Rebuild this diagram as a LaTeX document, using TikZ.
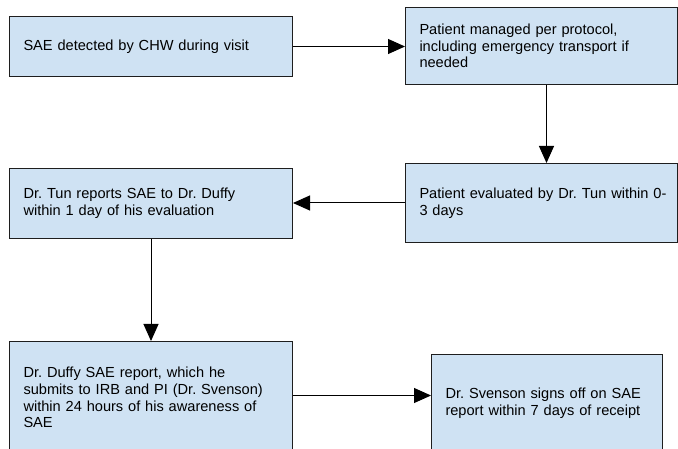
\documentclass[tikz,border=0pt]{standalone}
\usepackage{fontspec}
\setmainfont{Liberation Sans}
\frenchspacing
\usetikzlibrary{arrows.meta}
\definecolor{boxblue}{RGB}{207,226,243}
\definecolor{boxline}{RGB}{30,30,30}

\tikzset{
	stepbox/.style={draw=boxline, fill=boxblue, line width=1pt, anchor=north west,
		inner xsep=14pt, inner ysep=0pt, align=left,
		font=\fontsize{14.6}{16.7}\selectfont},
	flow/.style={-{Triangle[length=17pt,width=15pt]}, line width=1pt}
}

\begin{document}
\begin{tikzpicture}[x=1pt, y=-1pt]
	\path[use as bounding box, clip] (0,0) rectangle (678,449);
	%\draw[gray, dashed] (0,0) grid[step=50] (678,449);

	\node[stepbox, text width=255pt, minimum height=60pt] (sae) at (9,16)
		{SAE detected by CHW during visit};
	\node[stepbox, text width=244pt, minimum height=77pt] (managed) at (405,7)
		{Patient managed per protocol,\\including emergency transport if\\needed};
	\node[stepbox, text width=244pt, minimum height=79pt] (evaluated) at (405,163)
		{\mbox{Patient evaluated by Dr. Tun within 0-}\\3 days};
	\node[stepbox, text width=255pt, minimum height=70pt] (tun) at (9,168)
		{Dr. Tun reports SAE to Dr. Duffy\\within 1 day of his evaluation};
	\node[stepbox, text width=255pt, minimum height=112pt] (duffy) at (9,341)
		{Dr. Duffy SAE report, which he\\submits to IRB and PI (Dr. Svenson)\\within 24 hours of his awareness of\\SAE};
	\node[stepbox, text width=203pt, minimum height=97pt] (svenson) at (431,354)
		{Dr. Svenson signs off on SAE\\report within 7 days of receipt};

	\draw[flow] (sae.east) -- (sae.east -| managed.west);
	\draw[flow] ([xshift=5pt]managed.south) -- ([xshift=5pt]managed.south |- evaluated.north);
	\draw[flow] (evaluated.west) -- (evaluated.west -| tun.east);
	\draw[flow] (tun.south) -- (tun.south |- duffy.north);
	\coordinate (mid) at ([yshift=2pt]duffy.east);
	\draw[flow] (mid) -- (mid -| svenson.west);
\end{tikzpicture}
\end{document}
